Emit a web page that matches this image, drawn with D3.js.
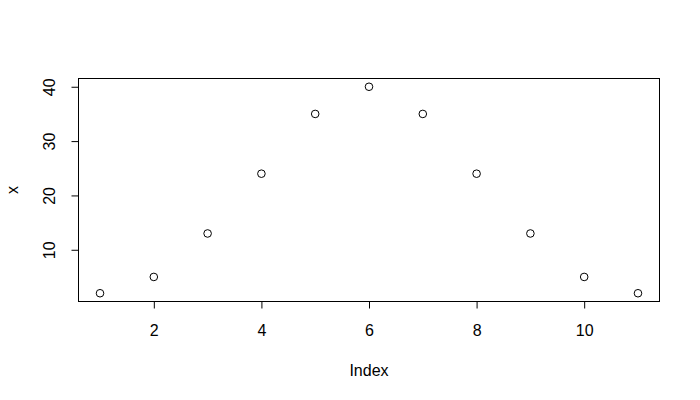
<!DOCTYPE html>
<html><head><meta charset="utf-8">
<script src="https://cdn.jsdelivr.net/npm/d3@7"></script>
<style>body{margin:0;background:#fff}text{font-family:"Liberation Sans",Arial,sans-serif;}</style>
</head><body>
<svg id="c" width="700" height="400"></svg>
<script>
const indexVals = [1,2,3,4,5,6,7,8,9,10,11];
const xVals = [2,5,13,24,35,40,35,24,13,5,2];
const xTicks = [2,4,6,8,10];
const yTicks = [10,20,30,40];

const svg = d3.select("#c");
const L = 78.5, R = 659.5, T = 78.5, B = 301.5;
const pad = (a,b)=>{const r=b-a;return [a-0.04*r,b+0.04*r];};
const x = d3.scaleLinear().domain(pad(d3.min(indexVals), d3.max(indexVals))).range([L,R]);
const y = d3.scaleLinear().domain(pad(d3.min(xVals), d3.max(xVals))).range([B,T]);

svg.append("rect").attr("x",L).attr("y",T).attr("width",R-L).attr("height",B-T)
  .attr("fill","none").attr("stroke","#000").attr("stroke-width",1);

const xa = svg.append("g").attr("transform",`translate(0,${B})`)
  .call(d3.axisBottom(x).tickValues(xTicks).tickSize(7).tickFormat(d3.format("d")));
xa.select(".domain").attr("d",`M${x(xTicks[0])},0H${x(xTicks[xTicks.length-1])}`);
xa.selectAll("text").attr("font-size",16).attr("font-family","Liberation Sans, Arial, sans-serif").attr("fill","#000")
  .attr("y",34.5).attr("dy",null);

const ya = svg.append("g").attr("transform",`translate(${L},0)`)
  .call(d3.axisLeft(y).tickValues(yTicks).tickSize(7).tickFormat(d3.format("d")));
ya.select(".domain").attr("d",`M0,${y(yTicks[0])}V${y(yTicks[yTicks.length-1])}`);
ya.selectAll("text").attr("font-size",16).attr("font-family","Liberation Sans, Arial, sans-serif").attr("fill","#000")
  .attr("x",null).attr("dy",null).attr("text-anchor","middle")
  .attr("transform","translate(-23.5,0) rotate(-90)");

svg.selectAll("circle.pt").data(indexVals).enter().append("circle").attr("class","pt")
  .attr("cx",d=>x(d)).attr("cy",(d,i)=>y(xVals[i])).attr("r",3.8)
  .attr("fill","none").attr("stroke","#000").attr("stroke-width",1);

svg.append("text").attr("x",(L+R)/2).attr("y",375.5).attr("text-anchor","middle")
  .attr("font-size",16).text("Index");
svg.append("text").attr("transform",`translate(17.5,${(T+B)/2}) rotate(-90)`).attr("text-anchor","middle")
  .attr("font-size",16).text("x");
</script>
</body></html>
